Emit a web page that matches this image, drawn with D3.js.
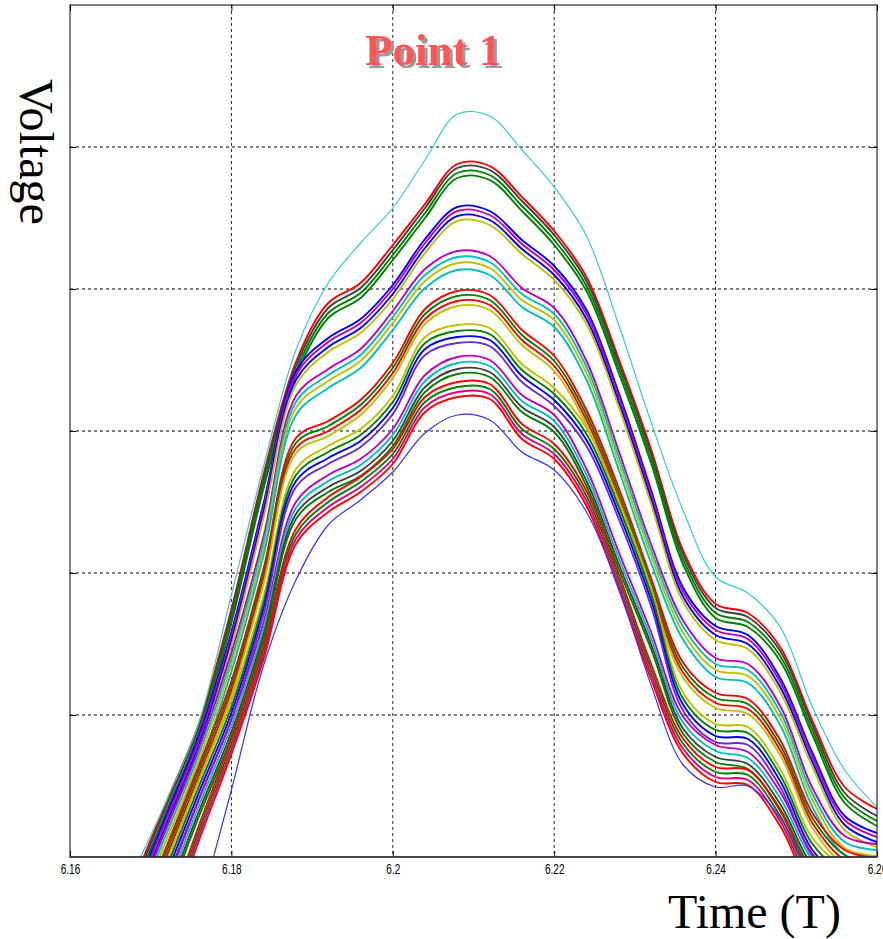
<!DOCTYPE html>
<html><head><meta charset="utf-8">
<script src="https://cdn.jsdelivr.net/npm/d3@7"></script>
<style>body{margin:0;background:#fff;} svg{display:block;}</style>
</head><body>
<svg id="chart" width="883" height="939"></svg>
<script>
// ---- data ----
const timeTicks = [6.16, 6.18, 6.2, 6.22, 6.24, 6.26];
const tickLabels = ["6.16", "6.18", "6.2", "6.22", "6.24", "6.26"];
const voltageGrid = [142, 284, 426, 568, 710];
const sampleTimes = [6.168, 6.172, 6.176, 6.180, 6.184, 6.188, 6.192, 6.196, 6.200, 6.204, 6.208, 6.212,
                     6.216, 6.220, 6.224, 6.228, 6.232, 6.236, 6.240, 6.244, 6.248, 6.252, 6.256, 6.260];

const cyanTop = [-13, 57, 135, 262, 391, 507, 574, 614, 649, 697, 743, 741, 707, 670, 621, 532, 435, 346, 280, 264, 230, 150, 87, 50];

const bandA1 = [-22, 56, 134, 248, 383, 495, 554, 574, 612, 653, 693, 691, 660, 626, 580, 498, 408, 306, 253, 244, 210, 136, 70, 48];
const bandA2 = [-26, 52, 130, 244, 379, 491, 549, 569, 607, 649, 689, 687, 656, 622, 576, 494, 404, 302, 249, 240, 206, 132, 64, 41];
const bandA3 = [-31, 47, 125, 239, 374, 486, 544, 564, 602, 644, 684, 682, 651, 617, 571, 489, 399, 297, 244, 235, 201, 127, 59, 36];
const bandA4 = [-36, 42, 120, 234, 369, 481, 539, 559, 597, 639, 679, 677, 646, 612, 566, 484, 394, 292, 239, 230, 196, 122, 54, 31];

const bandB1 = [-36, 43, 122, 225, 354, 486, 519, 538, 572, 618, 650, 646, 617, 591, 547, 464, 367, 269, 231, 222, 179, 104, 41, 24];
const bandB2 = [-40, 39, 118, 221, 350, 482, 515, 534, 568, 614, 646, 642, 613, 587, 543, 460, 363, 265, 227, 218, 175, 100, 37, 20];
const bandB3 = [-45, 34, 113, 216, 345, 477, 510, 529, 563, 609, 641, 637, 608, 582, 538, 455, 358, 260, 222, 213, 170, 95, 32, 15];
const bandB4 = [-50, 29, 108, 211, 340, 472, 505, 524, 558, 604, 636, 632, 603, 577, 533, 450, 353, 255, 217, 208, 165, 90, 27, 10];

const bandC1 = [-49, 30, 109, 204, 321, 461, 488, 508, 546, 588, 606, 601, 569, 549, 496, 406, 313, 236, 199, 193, 151, 69, 21, 13];
const bandC2 = [-55, 24, 103, 198, 315, 455, 482, 502, 540, 582, 600, 595, 563, 543, 490, 400, 307, 230, 193, 187, 145, 63, 15, 7];
const bandC3 = [-61, 18, 97, 192, 309, 449, 476, 496, 534, 576, 594, 589, 557, 537, 484, 394, 301, 224, 187, 181, 139, 57, 9, 1];
const bandC4 = [-68, 11, 90, 185, 302, 442, 469, 489, 527, 569, 587, 582, 550, 530, 477, 387, 294, 217, 180, 174, 132, 50, 2, -6];

const bandD1 = [-69, 11, 92, 176, 289, 419, 436, 457, 494, 548, 566, 562, 527, 501, 447, 369, 279, 194, 164, 158, 117, 44, 7, -1];
const bandD2 = [-74, 6, 87, 171, 284, 414, 431, 452, 489, 543, 561, 557, 522, 496, 442, 364, 274, 189, 159, 153, 112, 39, 2, -6];
const bandD3 = [-79, 1, 82, 166, 279, 409, 426, 447, 484, 538, 556, 552, 517, 491, 437, 359, 269, 184, 154, 148, 107, 34, -3, -11];
const bandD4 = [-84, -4, 77, 161, 274, 404, 421, 442, 479, 533, 551, 547, 512, 486, 432, 354, 264, 179, 149, 143, 102, 29, -8, -16];

const bandE1 = [-86, -4, 77, 156, 261, 388, 411, 428, 461, 520, 532, 529, 493, 469, 429, 356, 269, 164, 133, 130, 88, 19, -9, -14];
const bandE2 = [-92, -10, 71, 150, 255, 382, 405, 422, 455, 514, 526, 523, 487, 463, 423, 350, 263, 158, 127, 124, 82, 13, -15, -20];
const bandE3 = [-98, -16, 65, 144, 249, 376, 399, 416, 449, 508, 520, 517, 481, 457, 417, 344, 257, 152, 121, 118, 76, 7, -21, -26];
const bandE4 = [-104, -22, 59, 138, 243, 370, 393, 410, 443, 502, 514, 511, 475, 451, 411, 338, 251, 146, 115, 112, 70, 1, -27, -32];

const bandF1 = [-112, -27, 58, 137, 235, 355, 382, 398, 428, 482, 500, 497, 462, 442, 388, 305, 225, 140, 112, 105, 65, 3, -25, -30];
const bandF2 = [-118, -33, 52, 131, 229, 349, 376, 392, 422, 476, 494, 491, 456, 436, 382, 299, 219, 134, 106, 99, 59, -3, -31, -36];
const bandF3 = [-124, -39, 46, 125, 223, 343, 370, 386, 416, 470, 488, 485, 450, 430, 376, 293, 213, 128, 100, 93, 53, -9, -37, -42];
const bandF4 = [-129, -44, 41, 120, 218, 338, 365, 381, 411, 465, 483, 480, 445, 425, 371, 288, 208, 123, 95, 88, 48, -14, -42, -47];

const bandG1 = [-152, -60, 32, 118, 213, 328, 360, 380, 408, 460, 475, 473, 433, 413, 366, 283, 193, 118, 90, 87, 46, -17, -37, -47];
const bandG2 = [-157, -65, 27, 113, 208, 323, 355, 375, 403, 455, 470, 468, 428, 408, 361, 278, 188, 113, 85, 82, 41, -22, -42, -52];
const bandG3 = [-162, -70, 22, 108, 203, 318, 350, 370, 398, 450, 465, 463, 423, 403, 356, 273, 183, 108, 80, 77, 36, -27, -47, -57];
const bandG4 = [-167, -75, 17, 103, 198, 313, 345, 365, 393, 445, 460, 458, 418, 398, 351, 268, 178, 103, 75, 72, 31, -32, -52, -62];

const blueBottom = [-243, -178, -54, 67, 192, 277, 332, 357, 385, 424, 442, 437, 405, 387, 345, 269, 172, 92, 70, 71, 39, -23, -73, -103];

// series list (draw order) and their colours
const seriesList = [bandA1, bandA2, bandA3, bandA4, bandB1, bandB2, bandB3, bandB4,
                    bandC1, bandC2, bandC3, bandC4, bandD1, bandD2, bandD3, bandD4,
                    bandE1, bandE2, bandE3, bandE4, bandF1, bandF2, bandF3, bandF4,
                    bandG1, bandG2, bandG3, bandG4, cyanTop, blueBottom];
const seriesColors = ["#ff0000", "#404040", "#008000", "#008000",
                      "#0000ff", "#bf00bf", "#0000ff", "#bfbf00",
                      "#bf00bf", "#00bfbf", "#bfbf00", "#00bfbf",
                      "#ff0000", "#008000", "#ff0000", "#bfbf00",
                      "#bfbf00", "#008000", "#0000ff", "#6a2bd0",
                      "#bf00bf", "#00bfbf", "#404040", "#008000",
                      "#ff0000", "#008000", "#e0007f", "#ff0000",
                      "#33cccc", "#3333ff"];

// ---- layout ----
const L = 70, R = 877, T = 5, B = 857;
const svg = d3.select("#chart");
svg.append("rect").attr("width", 883).attr("height", 939).attr("fill", "#fff");

const x = d3.scaleLinear().domain([6.16, 6.26]).range([L, R]);
const y = d3.scaleLinear().domain([0, 852]).range([B, T]);

const defs = svg.append("defs");
defs.append("clipPath").attr("id", "plot")
  .append("rect").attr("x", L).attr("y", T).attr("width", R - L).attr("height", B - T);
defs.append("filter").attr("id", "shadow").attr("x", "-10%").attr("y", "-20%")
  .attr("width", "130%").attr("height", "150%")
  .append("feDropShadow").attr("dx", 3).attr("dy", 3).attr("stdDeviation", 0.6)
  .attr("flood-color", "#9a9a9a").attr("flood-opacity", 1);

// grid
const grid = svg.append("g");
grid.selectAll("line.v").data(timeTicks.slice(1, -1)).join("line")
  .attr("x1", d => x(d)).attr("x2", d => x(d)).attr("y1", T).attr("y2", B)
  .attr("stroke", "#222").attr("stroke-width", 1).attr("stroke-dasharray", "3,3");
grid.selectAll("line.h").data(voltageGrid).join("line")
  .attr("x1", L).attr("x2", R).attr("y1", d => y(d)).attr("y2", d => y(d))
  .attr("stroke", "#000").attr("stroke-width", 1).attr("stroke-dasharray", "3,3");

// curves
const line = d3.line().x((d, i) => x(sampleTimes[i])).y(d => y(d)).curve(d3.curveCatmullRom.alpha(0.5));
const curves = svg.append("g").attr("clip-path", "url(#plot)");
seriesList.forEach((s, i) => {
  const single = (s === cyanTop || s === blueBottom);
  curves.append("path").attr("d", line(s)).attr("fill", "none")
    .attr("stroke", seriesColors[i]).attr("stroke-width", single ? 1.2 : 1.9)
    .attr("stroke-linejoin", "round");
});

// axes (inner ticks, box)
const xb = svg.append("g").attr("transform", `translate(0,${B})`)
  .call(d3.axisBottom(x).tickValues(timeTicks).tickSize(-6).tickPadding(7)
        .tickFormat((d, i) => tickLabels[i]));
xb.select(".domain").remove();
xb.selectAll("text").attr("font-family", "Liberation Sans, Arial, sans-serif")
  .attr("font-size", 14).attr("fill", "#000").attr("transform", "scale(0.72,1)");

const xt = svg.append("g").attr("transform", `translate(0,${T})`)
  .call(d3.axisTop(x).tickValues(timeTicks).tickSize(-6).tickFormat(""));
xt.select(".domain").remove();
const yl = svg.append("g").attr("transform", `translate(${L},0)`)
  .call(d3.axisLeft(y).tickValues(voltageGrid).tickSize(-6).tickFormat(""));
yl.select(".domain").remove();
const yr = svg.append("g").attr("transform", `translate(${R},0)`)
  .call(d3.axisRight(y).tickValues(voltageGrid).tickSize(-6).tickFormat(""));
yr.select(".domain").remove();
svg.selectAll(".tick line").attr("stroke", "#111");

svg.append("rect").attr("x", L).attr("y", T).attr("width", R - L).attr("height", B - T)
  .attr("fill", "none").attr("stroke", "#000").attr("stroke-width", 1);
svg.append("line").attr("x1", L).attr("x2", R).attr("y1", B).attr("y2", B)
  .attr("stroke", "#333").attr("stroke-width", 1.6);

// labels
svg.append("text").attr("x", 668).attr("y", 928)
  .attr("font-family", "Liberation Serif, Times New Roman, serif").attr("font-size", 48)
  .attr("fill", "#000").text("Time (T)");
svg.append("text").attr("transform", "translate(20,79) rotate(90)")
  .attr("font-family", "Liberation Serif, Times New Roman, serif").attr("font-size", 48)
  .attr("fill", "#000").text("Voltage");
svg.append("text").attr("x", 365).attr("y", 65).attr("filter", "url(#shadow)")
  .attr("font-family", "Liberation Serif, Times New Roman, serif").attr("font-size", 45)
  .attr("font-weight", "bold").attr("fill", "#ff5555").text("Point 1");
</script>
</body></html>
